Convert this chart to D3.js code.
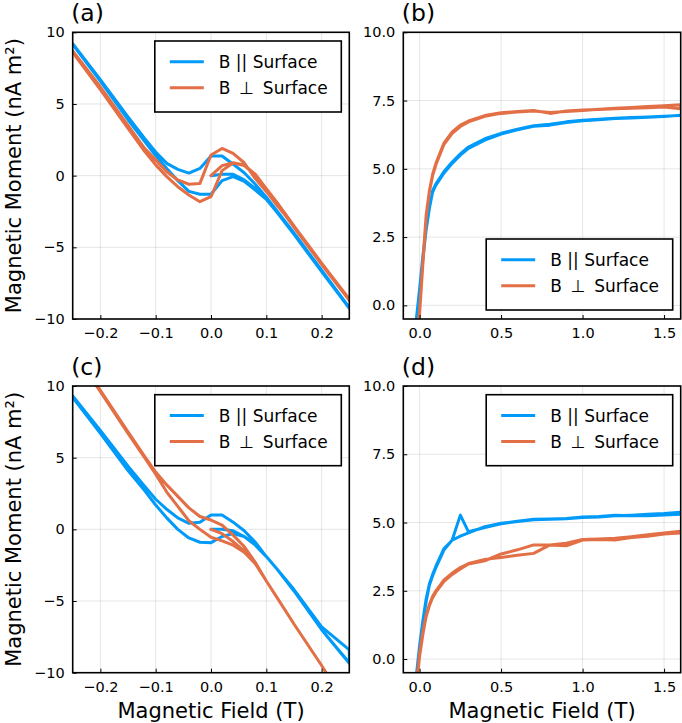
<!DOCTYPE html>
<html>
<head>
<meta charset="utf-8">
<script src="https://cdn.jsdelivr.net/npm/d3@7"></script>
<style>
  html, body { margin: 0; padding: 0; background: #fff; }
  svg { display: block; font-family: "DejaVu Sans", sans-serif; }
</style>
</head>
<body>
<svg id="chart" width="682" height="723"></svg>
<script>
// ---- data ----
const SERIES_NAMES = ['B || Surface', 'B \u2009\u22a5\u2009 Surface'];
const COLORS = ['#009af9', '#e26f46'];

// hysteresis sweeps, panels (a) and (c)
const FIELD_VIRGIN = [0, 0.02, 0.04, 0.06, 0.08, 0.1, 0.12, 0.15, 0.2, 0.25];
const FIELD_DOWN = [0.25, 0.2, 0.15, 0.12, 0.1, 0.08, 0.06, 0.04, 0.02, 0, -0.02, -0.04, -0.06, -0.08, -0.1, -0.12, -0.15, -0.2, -0.25];
const FIELD_UP = [-0.25, -0.2, -0.15, -0.12, -0.1, -0.08, -0.06, -0.04, -0.02, 0, 0.02, 0.04, 0.06, 0.08, 0.1, 0.12, 0.15, 0.2, 0.25];

const aParVirgin  = [0, 0.1, 0.1, -0.3, -0.9, -1.6, -2.5, -4.0, -6.6, -9.2];
const aParDown    = [-9.2, -6.6, -4.0, -2.5, -1.5, -0.6, 0.2, 0.8, 1.37, 1.37, 0.5, 0.18, 0.44, 0.86, 1.65, 2.6, 4.1, 6.7, 9.2];
const aParUp      = [9.15, 6.6, 3.9, 2.4, 1.4, 0.5, -0.35, -1.1, -1.3, -1.3, -0.35, -0.07, -0.4, -1.0, -1.65, -2.6, -4.1, -6.7, -9.25];
const aPerpVirgin = [0, 0.7, 0.9, 0.75, 0.1, -0.9, -1.9, -3.5, -6.1, -8.6];
const aPerpDown   = [-8.6, -6.1, -3.5, -2.1, -1.1, -0.2, 0.9, 1.55, 1.9, 1.44, -0.54, -0.6, -0.3, 0.27, 1.1, 1.9, 3.5, 6.2, 8.7];
const aPerpUp     = [8.6, 6.0, 3.3, 1.7, 0.75, -0.07, -0.77, -1.35, -1.82, -1.47, 0.35, 0.88, 0.7, 0.05, -0.95, -2.0, -3.6, -6.2, -8.7];

const cParVirgin  = [0, 0.0, -0.1, -0.5, -1.1, -1.9, -2.8, -4.3, -7.0, -9.35];
const cParDown    = [-8.4, -6.8, -4.2, -2.8, -1.9, -0.9, -0.1, 0.5, 1.0, 1.0, 0.5, 0.42, 0.8, 1.4, 2.1, 3.0, 4.4, 6.9, 9.3];
const cParUp      = [9.2, 6.7, 4.1, 2.7, 1.7, 0.8, 0.0, -0.6, -0.9, -0.93, -0.5, -0.3, -0.5, -1.0, -1.9, -2.8, -4.3, -7.0, -9.3];
const cPerpVirgin = [0, -0.3, -0.85, -1.5, -2.4, -3.6, -4.8, -6.6, -9.5, -12.6];
const cPerpDown   = [-12.6, -9.5, -6.6, -4.8, -3.6, -2.3, -1.2, -0.4, 0.3, 0.65, 0.9, 1.5, 2.3, 3.1, 4.0, 5.1, 6.8, 9.7, 12.6];
const cPerpUp     = [12.5, 9.6, 6.7, 5.0, 3.85, 2.6, 1.6, 0.6, 0.0, -0.55, -0.8, -1.1, -1.6, -2.4, -3.6, -4.8, -6.6, -9.5, -12.6];

// background-subtracted up/down sweeps, panels (b) and (d)
const FIELD_SAT = [-0.04, -0.02, 0, 0.02, 0.04, 0.06, 0.08, 0.1, 0.15, 0.2, 0.25, 0.3, 0.4, 0.5, 0.6, 0.7, 0.8, 0.9, 1.0, 1.1, 1.2, 1.3, 1.4, 1.5, 1.6];

const bParUp    = [-1.5, -0.5, 0.6, 1.8, 2.8, 3.6, 4.2, 4.45, 4.9, 5.25, 5.55, 5.8, 6.1, 6.3, 6.45, 6.58, 6.63, 6.72, 6.78, 6.82, 6.85, 6.88, 6.9, 6.93, 6.95];
const bParDown  = [-1.6, -0.6, 0.5, 1.7, 2.75, 3.55, 4.15, 4.4, 4.85, 5.2, 5.5, 5.75, 6.05, 6.27, 6.43, 6.56, 6.6, 6.7, 6.76, 6.8, 6.84, 6.86, 6.89, 6.92, 6.96];
const bPerpUp   = [-2.5, -1.4, -0.2, 1.6, 3.3, 4.2, 4.8, 5.2, 5.95, 6.35, 6.6, 6.75, 6.95, 7.05, 7.1, 7.14, 7.03, 7.12, 7.15, 7.17, 7.2, 7.22, 7.24, 7.26, 7.2];
const bPerpDown = [-2.6, -1.5, -0.3, 1.5, 3.2, 4.15, 4.75, 5.15, 5.9, 6.3, 6.55, 6.72, 6.92, 7.03, 7.08, 7.12, 7.06, 7.1, 7.14, 7.18, 7.22, 7.25, 7.28, 7.31, 7.35];

const dParUp    = [-1.5, -0.6, 0.5, 1.4, 2.2, 2.75, 3.1, 3.4, 4.05, 4.35, 4.5, 4.62, 4.85, 4.97, 5.05, 5.12, 5.13, 5.15, 5.2, 5.22, 5.27, 5.25, 5.25, 5.28, 5.3];
const dParDown  = [-1.6, -0.7, 0.4, 1.3, 2.1, 2.7, 3.05, 3.35, 4.0, 4.36, 5.27, 4.66, 4.82, 4.95, 5.04, 5.1, 5.12, 5.14, 5.18, 5.2, 5.25, 5.27, 5.3, 5.33, 5.38];
const dPerpUp   = [-1.8, -0.9, 0.2, 1.0, 1.6, 2.0, 2.3, 2.5, 2.9, 3.15, 3.35, 3.5, 3.65, 3.72, 3.8, 3.87, 4.18, 4.15, 4.36, 4.38, 4.36, 4.45, 4.5, 4.58, 4.62];
const dPerpDown = [-1.9, -1.0, 0.1, 0.9, 1.55, 1.95, 2.25, 2.45, 2.85, 3.1, 3.3, 3.48, 3.6, 3.85, 4.0, 4.18, 4.18, 4.24, 4.38, 4.4, 4.42, 4.48, 4.55, 4.62, 4.68];

// ticks
const LOOP_XTICKS = [-0.2, -0.1, 0, 0.1, 0.2];
const LOOP_XLABELS = ['\u22120.2', '\u22120.1', '0.0', '0.1', '0.2'];
const LOOP_YTICKS = [-10, -5, 0, 5, 10];
const LOOP_YLABELS = ['\u221210', '\u22125', '0', '5', '10'];
const SAT_XTICKS = [0, 0.5, 1, 1.5];
const SAT_XLABELS = ['0.0', '0.5', '1.0', '1.5'];
const SAT_YTICKS = [0, 2.5, 5, 7.5, 10];
const SAT_YLABELS = ['0.0', '2.5', '5.0', '7.5', '10.0'];

// ---- helpers ----
const zip = (xs, ys) => xs.map((x, i) => [x, ys[i]]);
// one continuous trace: virgin branch, then down sweep, then up sweep
const loop = (v, d, u) => zip(FIELD_VIRGIN, v).concat(zip(FIELD_DOWN, d), zip(FIELD_UP, u));
const sweep = (up, down) => zip(FIELD_SAT, up).concat(zip(FIELD_SAT, down).reverse());

const INK = '#000';
const svg = d3.select('#chart');

const COLS = [{ x0: 72.7, x1: 349.3 }, { x0: 403.3, x1: 680.7 }];
const ROWS = [{ y0: 32.3, y1: 319 }, { y0: 386, y1: 672.7 }];

const PANELS = [
  { tag: '(a)', col: 0, row: 0, kind: 'loop', legend: 'top',
    traces: [loop(aParVirgin, aParDown, aParUp), loop(aPerpVirgin, aPerpDown, aPerpUp)] },
  { tag: '(b)', col: 1, row: 0, kind: 'sat', legend: 'bottom',
    traces: [sweep(bParUp, bParDown), sweep(bPerpUp, bPerpDown)] },
  { tag: '(c)', col: 0, row: 1, kind: 'loop', legend: 'top',
    traces: [loop(cParVirgin, cParDown, cParUp), loop(cPerpVirgin, cPerpDown, cPerpUp)] },
  { tag: '(d)', col: 1, row: 1, kind: 'sat', legend: 'top',
    traces: [sweep(dParUp, dParDown), sweep(dPerpUp, dPerpDown)] },
];

PANELS.forEach((p, k) => {
  const c = COLS[p.col], r = ROWS[p.row];
  const isLoop = p.kind === 'loop';
  const x = d3.scaleLinear().domain(isLoop ? [-0.25, 0.25] : [-0.1, 1.602]).range([c.x0, c.x1]);
  const y = d3.scaleLinear().domain(isLoop ? [-10, 10] : [-0.5, 10]).range([r.y1, r.y0]);
  const xt = isLoop ? LOOP_XTICKS : SAT_XTICKS, xl = isLoop ? LOOP_XLABELS : SAT_XLABELS;
  const yt = isLoop ? LOOP_YTICKS : SAT_YTICKS, yl = isLoop ? LOOP_YLABELS : SAT_YLABELS;
  const g = svg.append('g');

  // grid
  g.append('g').selectAll('line').data(xt).join('line')
    .attr('x1', d => x(d)).attr('x2', d => x(d)).attr('y1', r.y0).attr('y2', r.y1)
    .attr('stroke', 'rgba(0,0,0,0.1)').attr('stroke-width', 1);
  g.append('g').selectAll('line').data(yt).join('line')
    .attr('y1', d => y(d)).attr('y2', d => y(d)).attr('x1', c.x0).attr('x2', c.x1)
    .attr('stroke', 'rgba(0,0,0,0.1)').attr('stroke-width', 1);

  // data
  const clipId = 'clip' + k;
  svg.append('clipPath').attr('id', clipId).append('rect')
    .attr('x', c.x0).attr('y', r.y0).attr('width', c.x1 - c.x0).attr('height', r.y1 - r.y0);
  const line = d3.line().x(d => x(d[0])).y(d => y(d[1]));
  const gd = g.append('g').attr('clip-path', `url(#${clipId})`);
  p.traces.forEach((t, i) => {
    gd.append('path').attr('d', line(t)).attr('fill', 'none').attr('stroke', COLORS[i])
      .attr('stroke-width', 3).attr('stroke-linejoin', 'round').attr('stroke-linecap', 'round');
  });

  // axes
  const ax = g.append('g').attr('transform', `translate(0,${r.y1})`)
    .call(d3.axisBottom(x).tickValues(xt).tickFormat((d, i) => xl[i]).tickSize(-4).tickPadding(9));
  const ay = g.append('g').attr('transform', `translate(${c.x0},0)`)
    .call(d3.axisLeft(y).tickValues(yt).tickFormat((d, i) => yl[i]).tickSize(-4).tickPadding(8));
  [ax, ay].forEach(a => {
    a.select('.domain').remove();
    a.selectAll('.tick line').attr('stroke', INK).attr('stroke-width', 1);
    a.selectAll('.tick text').attr('font-size', 14.5).attr('fill', INK)
      .attr('font-family', '"DejaVu Sans", sans-serif');
  });

  // frame
  g.append('rect').attr('x', c.x0).attr('y', r.y0).attr('width', c.x1 - c.x0).attr('height', r.y1 - r.y0)
    .attr('fill', 'none').attr('stroke', INK).attr('stroke-width', 1.6);

  // panel tag
  g.append('text').attr('x', c.x0 - 1.5).attr('y', r.y0 - 11.5).attr('font-size', 23.5).attr('fill', INK).text(p.tag);

  // legend
  const lw = 186.5, lh = 71;
  const lx = c.x1 - 8 - lw;
  const ly = p.legend === 'top' ? r.y0 + 8.7 : r.y1 - 9 - lh;
  const lg = g.append('g').attr('transform', `translate(${lx},${ly})`);
  lg.append('rect').attr('width', lw).attr('height', lh).attr('fill', '#fff')
    .attr('stroke', INK).attr('stroke-width', 1.6);
  SERIES_NAMES.forEach((name, i) => {
    const yy = 20.7 + i * 26;
    lg.append('line').attr('x1', 15).attr('x2', 49).attr('y1', yy).attr('y2', yy)
      .attr('stroke', COLORS[i]).attr('stroke-width', 3);
    lg.append('text').attr('x', 64).attr('y', yy).attr('dy', '0.36em')
      .attr('font-size', 17).attr('fill', INK).text(name);
  });

  // axis titles
  if (p.col === 0) {
    const cy = (r.y0 + r.y1) / 2;
    svg.append('text').attr('transform', `translate(21,${cy}) rotate(-90)`)
      .attr('text-anchor', 'middle').attr('font-size', 21).attr('fill', INK)
      .text('Magnetic Moment (nA m\u00b2)');
  }
  if (p.row === 1) {
    svg.append('text').attr('x', (c.x0 + c.x1) / 2).attr('y', 718).attr('text-anchor', 'middle')
      .attr('font-size', 21).attr('fill', INK).text('Magnetic Field (T)');
  }
});
</script>
</body>
</html>
